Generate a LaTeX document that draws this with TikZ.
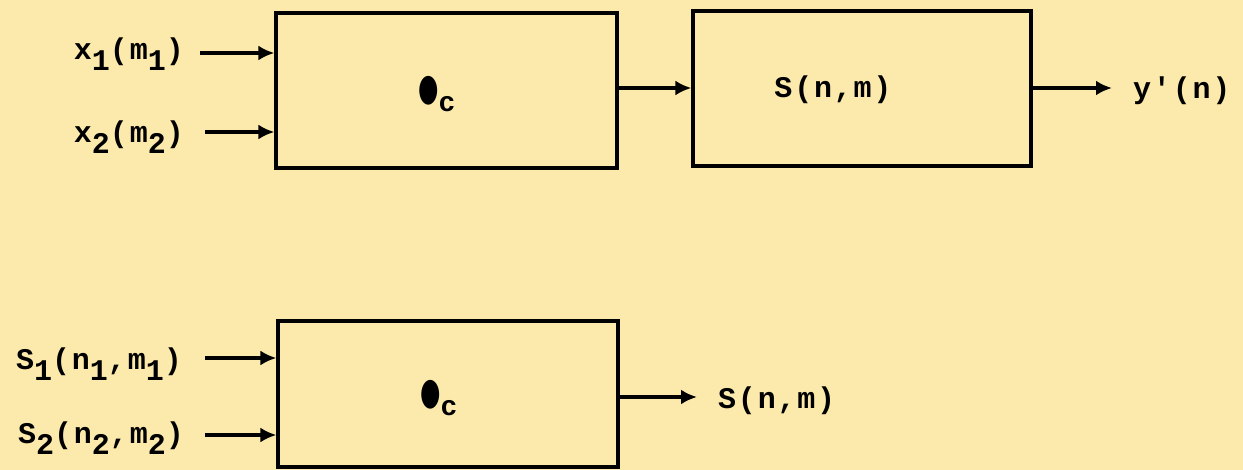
\documentclass[tikz,border=0pt]{standalone}
\usepackage{fontspec}
\newfontfamily\lbfont[LetterSpace=6]{Liberation Mono}
\newfontfamily\symfont{DejaVu Sans}
\usetikzlibrary{arrows.meta}
\definecolor{paper}{RGB}{252,234,172}
\newcommand\lo[1]{\raisebox{-0.36em}{#1}}
\newcommand\blob{{\symfont\fontsize{26}{26}\selectfont\scalebox{0.9}[1.45]{●}}}
\begin{document}
\begin{tikzpicture}[x=1pt,y=-1pt,
  lbl/.style={font=\lbfont\bfseries\fontsize{30}{30}\selectfont, inner sep=0pt},
  blk/.style={draw, line width=3.2pt, rectangle, inner sep=0pt},
  arr/.style={line width=3.2pt, -{Latex[length=16pt,width=15pt]}}]
\fill[paper] (0,0) rectangle (1243,470);
\useasboundingbox (0,0) rectangle (1243,470);
% top row
\node[blk, minimum width=341pt, minimum height=155pt] (b1) at (446.5,90.5) {};
\node[blk, minimum width=338pt, minimum height=155pt] (b2) at (862,88.5) {};
\node[lbl, anchor=west] (c1) at (418,94) {\blob\lo{\fontsize{28}{28}\selectfont c}};
\node[lbl] (s1) at (833,90) {S(n,m)};
\node[lbl, anchor=east] (x1) at (184,54) {x\lo{1}(m\lo{1})};
\node[lbl, anchor=east] (x2) at (184,137) {x\lo{2}(m\lo{2})};
\node[lbl, anchor=west] (y) at (1133,91) {y'(n)};
\coordinate (x1e) at (200,53);
\coordinate (x2e) at (205,132);
\draw[arr] (x1e) -- (x1e -| b1.west);
\draw[arr] (x2e) -- (x2e -| b1.west);
\draw[arr] (b1.east |- 0,88) -- (b2.west |- 0,88);
\draw[arr] (b2.east |- 0,88) -- (1112,88);
% bottom row
\node[blk, minimum width=340pt, minimum height=146pt] (b3) at (448,394) {};
\node[lbl, anchor=west] (c2) at (420,398) {\blob\lo{\fontsize{28}{28}\selectfont c}};
\node[lbl, anchor=east] (in1) at (182,364) {S\lo{1}(n\lo{1},m\lo{1})};
\node[lbl, anchor=east] (in2) at (184,438) {S\lo{2}(n\lo{2},m\lo{2})};
\node[lbl, anchor=west] (out) at (718,401) {S(n,m)};
\coordinate (i1e) at (205,358);
\coordinate (i2e) at (205,435);
\draw[arr] (i1e) -- (i1e -| b3.west);
\draw[arr] (i2e) -- (i2e -| b3.west);
\draw[arr] (b3.east |- 0,397) -- (697,397);
\end{tikzpicture}
\end{document}
